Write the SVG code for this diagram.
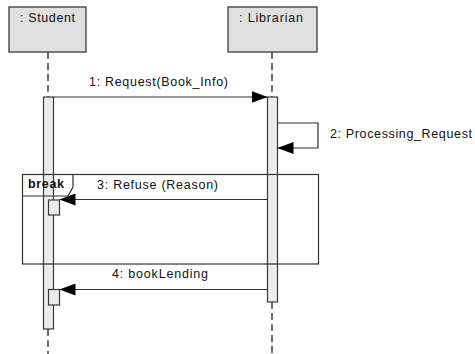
<svg xmlns="http://www.w3.org/2000/svg" width="475" height="354" viewBox="0 0 475 354">
  <style>
    .lbl { font-family: "Liberation Sans", Arial, sans-serif; font-size: 12.5px; fill: #111; }
    .head { fill: #e0e0e0; stroke: #3a3a3a; stroke-width: 1.3; }
    .life { stroke: #222; stroke-width: 1.3; stroke-dasharray: 7 4; fill: none; }
    .act { fill: #ececec; stroke: #3a3a3a; stroke-width: 1.2; }
    .msg { stroke: #333; stroke-width: 1.2; fill: none; }
    .frame { fill: none; stroke: #333; stroke-width: 1.2; }
  </style>
  <defs>
    <marker id="arrow" markerWidth="16" markerHeight="12" refX="16" refY="6" orient="auto" markerUnits="userSpaceOnUse">
      <path d="M0,0 L16,6 L0,12 Z" fill="#000"/>
    </marker>
  </defs>
  <rect width="475" height="354" fill="#fff"/>

  <!-- Student lifeline -->
  <g id="student">
    <rect class="head" x="9" y="7" width="77" height="45"/>
    <text class="lbl" x="20" y="22" textLength="55" lengthAdjust="spacing">: Student</text>
    <line class="life" x1="48" y1="52" x2="48" y2="97"/>
    <rect class="act" x="43.5" y="97" width="10" height="232"/>
    <line class="life" x1="48" y1="329" x2="48" y2="354"/>
    <rect id="student-act-3" class="act" x="48.5" y="200" width="11" height="15"/>
    <rect id="student-act-4" class="act" x="48.5" y="289.5" width="11" height="15.5"/>
  </g>

  <!-- Librarian lifeline -->
  <g id="librarian">
    <rect class="head" x="228" y="7" width="89" height="45"/>
    <text class="lbl" x="239" y="22" textLength="64" lengthAdjust="spacing">: Librarian</text>
    <line class="life" x1="272" y1="52" x2="272" y2="97"/>
    <rect class="act" x="267.5" y="97" width="10" height="205"/>
    <line class="life" x1="272" y1="302" x2="272" y2="354"/>
  </g>

  <!-- break fragment -->
  <g id="break">
    <rect class="frame" x="22.5" y="174.5" width="296" height="89.5"/>
    <path class="frame" d="M22.5,196 L68,196 L73,187 L73,174.5"/>
    <text class="lbl" x="28" y="188" font-weight="bold" textLength="36" lengthAdjust="spacing">break</text>
  </g>

  <!-- messages -->
  <g id="connectors">
    <line class="msg" x1="53.5" y1="97" x2="267.5" y2="97" marker-end="url(#arrow)"/>
    <text class="lbl" x="89" y="86" textLength="139" lengthAdjust="spacing">1: Request(Book_Info)</text>

    <polyline class="msg" points="277.5,123 318,123 318,148 277.5,148" marker-end="url(#arrow)"/>
    <text class="lbl" x="330" y="137.5" textLength="142" lengthAdjust="spacing">2: Processing_Request</text>

    <line class="msg" x1="267.5" y1="199.5" x2="59.5" y2="199.5" marker-end="url(#arrow)"/>
    <text class="lbl" x="97" y="188.5" textLength="121" lengthAdjust="spacing">3: Refuse (Reason)</text>

    <line class="msg" x1="267.5" y1="289.5" x2="59.5" y2="289.5" marker-end="url(#arrow)"/>
    <text class="lbl" x="112" y="278" textLength="96" lengthAdjust="spacing">4: bookLending</text>
  </g>
</svg>
